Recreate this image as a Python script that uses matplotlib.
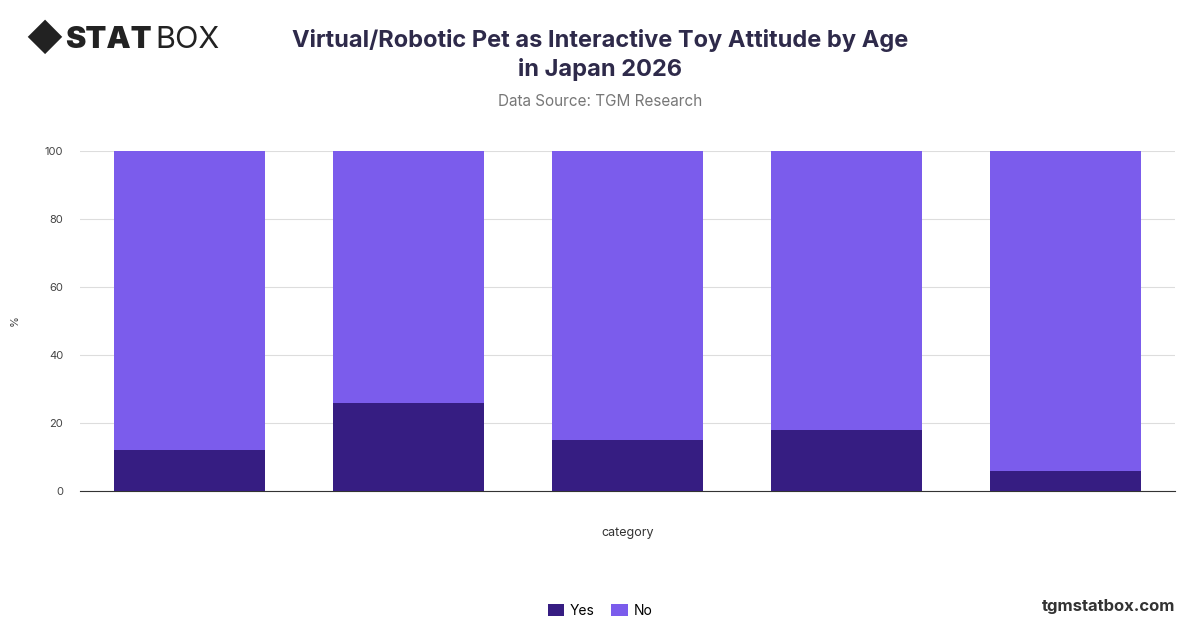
import matplotlib.pyplot as plt
import numpy as np

# values (percent)
categories = ["", "", "", "", ""]
yes_values = [12, 26, 15, 18, 6]
no_values = [88, 74, 85, 82, 94]

YES_COLOR = "#361d82"
NO_COLOR = "#7b5cec"

plt.rcParams['font.family'] = ['Inter', 'DejaVu Sans']

fig = plt.figure(figsize=(12, 6.28), dpi=100)
ax = fig.add_axes([80 / 1200, 1 - 491 / 628, 1095 / 1200, 340 / 628])

x = np.arange(len(categories))
ax.bar(x, yes_values, width=0.69, color=YES_COLOR, label="Yes", zorder=3)
ax.bar(x, no_values, width=0.69, bottom=yes_values, color=NO_COLOR, label="No", zorder=3)

ax.set_xlim(-0.5, len(categories) - 0.5)
ax.set_ylim(0, 100)
ax.set_yticks([0, 20, 40, 60, 80, 100])
ax.set_xticks([])
ax.tick_params(axis='y', length=0, labelsize=8, colors="#444444", pad=12)
ax.grid(axis='y', color="#dddddd", linewidth=0.8, zorder=0)
for side in ["top", "right", "left"]:
    ax.spines[side].set_visible(False)
ax.spines["bottom"].set_color("#333333")
ax.set_ylabel("%", fontsize=8, color="#444444", labelpad=18)
ax.set_xlabel("category", fontsize=9, color="#333333", labelpad=26)

fig.text(0.5, 1 - 55 / 628, "Virtual/Robotic Pet as Interactive Toy Attitude by Age\nin Japan 2026",
         ha="center", va="center", fontsize=17, fontweight="bold", color="#2e2a4a", linespacing=1.3)
fig.text(0.5, 1 - 101 / 628, "Data Source: TGM Research", ha="center", va="center",
         fontsize=11, color="#777777")

# logo text
fig.text(25 / 1200, 1 - 40 / 628, "\u25C6", ha="left", va="center", fontsize=26, color="#222222")
fig.text(65 / 1200, 1 - 40 / 628, "STAT", ha="left", va="center", fontsize=22,
         fontweight="black", color="#222222")
fig.text(155 / 1200, 1 - 40 / 628, "BOX", ha="left", va="center", fontsize=22, color="#222222")

fig.text(1175 / 1200, 1 - 606 / 628, "tgmstatbox.com", ha="right", va="center",
         fontsize=12, fontweight="bold", color="#333333")

fig.legend(loc="center", bbox_to_anchor=(0.5, 1 - 611 / 628), ncol=2, frameon=False,
           handlelength=1, handleheight=1, handletextpad=0.6, columnspacing=1.2,
           fontsize=10, markerscale=1)
leg = fig.legends[0]
for h in leg.legend_handles:
    h.set_width(12)

fig.savefig("out.png", dpi=100)
